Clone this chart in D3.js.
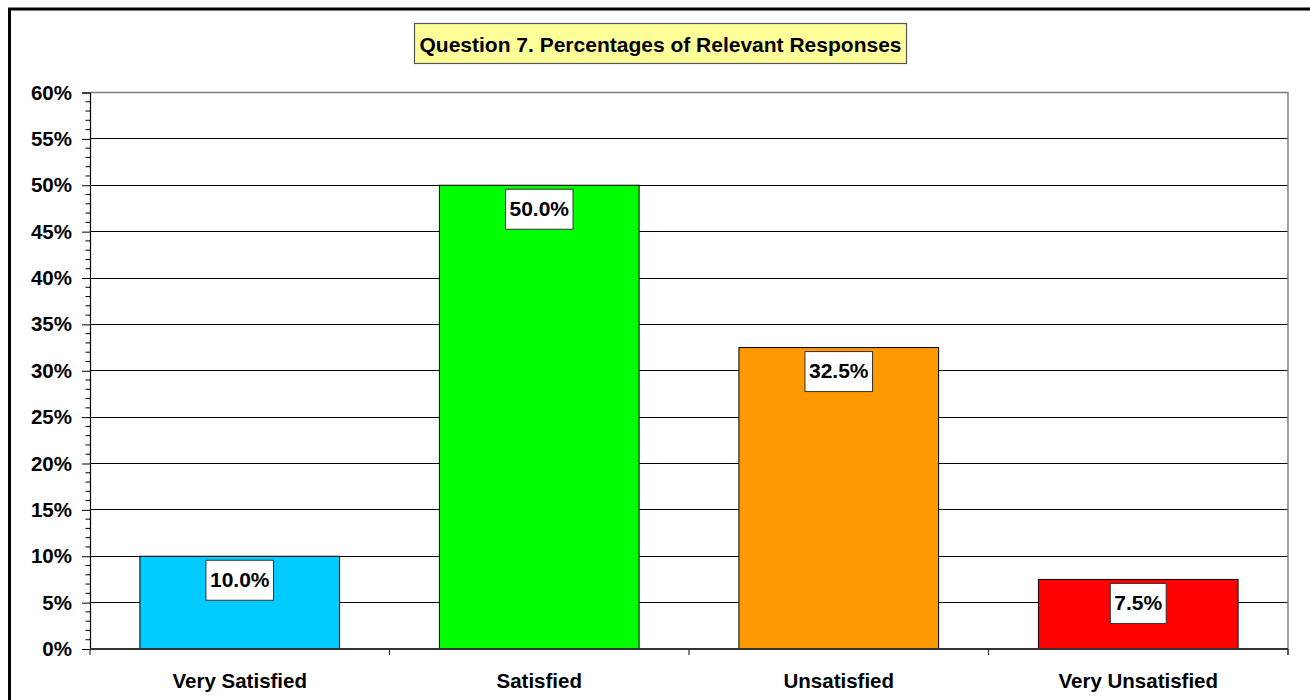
<!DOCTYPE html>
<html><head><meta charset="utf-8">
<script src="https://cdn.jsdelivr.net/npm/d3@7"></script>
<style>body{margin:0;background:#fff;}svg{display:block;font-family:Arial,"Liberation Sans",sans-serif;}</style>
</head><body>
<svg id="c" width="1310" height="700"></svg>
<script>
const categories = ["Very Satisfied","Satisfied","Unsatisfied","Very Unsatisfied"];
const values = [10.0, 50.0, 32.5, 7.5];
const barColors = ["#00CCFF","#00FF00","#FF9900","#FF0000"];
const yTicks = [0,5,10,15,20,25,30,35,40,45,50,55,60];
const titleText = "Question 7. Percentages of Relevant Responses";

const svg = d3.select("#c");
const L = 90, R = 1288, T = 92.5, B = 649;

// outer frame
svg.append("rect").attr("x",9.5).attr("y",9).attr("width",1320).attr("height",720)
  .attr("fill","none").attr("stroke","#000").attr("stroke-width",3);

const x = d3.scaleBand().domain(categories).range([L,R]).paddingInner(1/3).paddingOuter(1/6);
const xb = d3.scaleBand().domain(categories).range([L,R]);
const y = d3.scaleLinear().domain([0,60]).range([B,T]);

// gridlines
svg.append("g").selectAll("line").data(yTicks.filter(d=>d>0 && d<60)).join("line")
  .attr("x1",L).attr("x2",R).attr("y1",d=>y(d)).attr("y2",d=>y(d))
  .attr("stroke","#000").attr("stroke-width",1).attr("shape-rendering","crispEdges");

// plot border top/right (gray)
svg.append("path").attr("d",`M${L},${y(60)}H${R}V${B+6}`).attr("fill","none")
  .attr("stroke","#808080").attr("stroke-width",1.5);

// bars
svg.append("g").selectAll("rect").data(values).join("rect")
  .attr("x",(d,i)=>x(categories[i])).attr("width",x.bandwidth())
  .attr("y",d=>y(d)).attr("height",d=>B-y(d))
  .attr("fill",(d,i)=>barColors[i]).attr("stroke","#000").attr("stroke-width",1);

// y axis
const yAxis = d3.axisLeft(y).tickValues(yTicks).tickFormat(d=>d+"%").tickSize(8).tickPadding(10);
const gy = svg.append("g").attr("transform",`translate(${L},0)`).call(yAxis);
gy.select(".domain").attr("stroke","#000").attr("stroke-width",1.2);
gy.selectAll(".tick line").attr("stroke","#000");
gy.selectAll("text").attr("font-size","20.5px").attr("font-weight","bold").attr("fill","#000")
  .attr("font-family","Arial, 'Liberation Sans', sans-serif");
// minor ticks
const minor = d3.range(0,61).filter(d=>d%5!==0);
svg.append("g").selectAll("line").data(minor).join("line")
  .attr("x1",L-4.5).attr("x2",L).attr("y1",d=>y(d)).attr("y2",d=>y(d))
  .attr("stroke","#000").attr("stroke-width",1);

// x axis
svg.append("line").attr("x1",L).attr("x2",R).attr("y1",B).attr("y2",B)
  .attr("stroke","#333").attr("stroke-width",2);
const bounds = categories.map(c=>xb(c)).concat([R]);
svg.append("g").selectAll("line").data(bounds).join("line")
  .attr("x1",d=>d).attr("x2",d=>d).attr("y1",B).attr("y2",B+6)
  .attr("stroke","#333").attr("stroke-width",1.2);
svg.append("g").selectAll("text").data(categories).join("text")
  .attr("x",d=>xb(d)+xb.bandwidth()/2).attr("y",688)
  .attr("text-anchor","middle").attr("font-size","20.5px").attr("font-weight","bold")
  .text(d=>d);

// value labels
const lg = svg.append("g").selectAll("g").data(values).join("g");
lg.each(function(d,i){
  const g = d3.select(this);
  const cx = x(categories[i]) + x.bandwidth()/2;
  const top = y(d) + 4;
  const r = g.append("rect");
  const t = g.append("text").attr("x",cx).attr("y",top+26.5).attr("text-anchor","middle")
    .attr("font-size","21px").attr("font-weight","bold").text(d.toFixed(1)+"%");
  const w = t.node().getComputedTextLength() + 8;
  r.attr("x",cx-w/2).attr("y",top).attr("width",w).attr("height",40)
    .attr("fill","#fff").attr("stroke","#333").attr("stroke-width",1);
});

// title
const tg = svg.append("g");
const tr = tg.append("rect");
const tt = tg.append("text").attr("x",660.5).attr("y",51.5).attr("text-anchor","middle")
  .attr("font-size","21px").attr("font-weight","bold").text(titleText);
const tw = tt.node().getComputedTextLength() + 10;
tr.attr("x",660.5-tw/2).attr("y",23.5).attr("width",tw).attr("height",40)
  .attr("fill","#FFFF99").attr("stroke","#555").attr("stroke-width",1.2);
</script>
</body></html>
